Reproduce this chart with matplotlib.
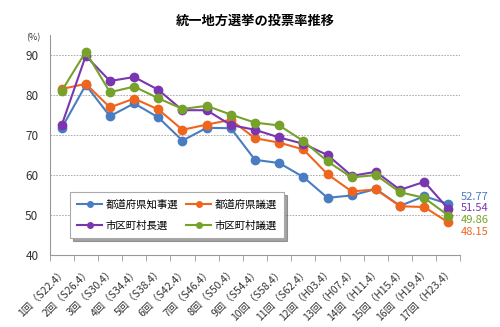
import matplotlib
matplotlib.use("Agg")
import matplotlib.pyplot as plt
import numpy as np

plt.rcParams["font.family"] = ["Noto Sans CJK JP", "DejaVu Sans"]

# data
categories = ["1回（S22.4）", "2回（S26.4）", "3回（S30.4）", "4回（S34.4）", "5回（S38.4）",
              "6回（S42.4）", "7回（S46.4）", "8回（S50.4）", "9回（S54.4）", "10回（S58.4）",
              "11回（S62.4）", "12回（H03.4）", "13回（H07.4）", "14回（H11.4）", "15回（H15.4）",
              "16回（H19.4）", "17回（H23.4）"]
governor = [71.7, 82.5, 74.7, 77.9, 74.4, 68.6, 71.8, 71.7, 63.8, 63.0, 59.5, 54.3, 54.9, 56.5, 52.3, 54.7, 52.77]
pref_assembly = [81.5, 82.8, 76.9, 79.1, 76.4, 71.3, 72.6, 73.8, 69.2, 68.1, 66.4, 60.2, 55.9, 56.4, 52.2, 52.0, 48.15]
mayor = [72.4, 89.8, 83.5, 84.5, 81.3, 76.2, 76.2, 72.5, 71.3, 69.4, 67.8, 65.0, 59.8, 60.8, 56.3, 58.3, 51.54]
muni_assembly = [81.0, 90.8, 80.7, 82.1, 79.2, 76.5, 77.3, 75.1, 73.1, 72.4, 68.5, 63.4, 59.4, 60.0, 55.7, 54.3, 49.86]

series = [
    ("都道府県知事選", governor, "#4a7cc2"),
    ("都道府県議選", pref_assembly, "#f0651e"),
    ("市区町村長選", mayor, "#7a36ae"),
    ("市区町村議選", muni_assembly, "#76a22c"),
]

fig = plt.figure(figsize=(5, 3.27), dpi=100)
ax = fig.add_axes([0.099, 0.22, 0.822, 0.673])

x = np.arange(len(categories))
for name, vals, col in series:
    ax.plot(x, vals, "-o", color=col, lw=1.5, ms=6, label=name, zorder=3)

# value labels at the right end (top to bottom)
label_y = [54.6, 51.7, 48.7, 45.7]
order = [0, 2, 3, 1]
for yy, i in zip(label_y, order):
    name, vals, col = series[i]
    ax.text(16.5, yy, f"{vals[-1]:.2f}", color=col, fontsize=8, va="center", ha="left")

ax.set_xlim(-0.5, 16.5)
ax.set_ylim(40, 95)
ax.set_yticks([40, 50, 60, 70, 80, 90])
ax.tick_params(axis="y", length=0, labelsize=8.5, labelcolor="#333333", pad=8)
for v in [50, 60, 70, 80, 90]:
    ax.axhline(v, color="#a0a0a0", lw=0.6, ls=(0, (2, 1.5)), zorder=1)

ax.set_xticks(x)
ax.set_xticklabels(categories, rotation=45, ha="right", rotation_mode="anchor", fontsize=7.5, color="#333333")
ax.tick_params(axis="x", which="major", length=0, pad=8)
ax.set_xticks(np.arange(-0.5, 17, 1), minor=True)
ax.tick_params(axis="x", which="minor", length=4, color="#999999", direction="out")

for s in ["top", "right"]:
    ax.spines[s].set_visible(False)
ax.spines["left"].set_color("#999999")
ax.spines["bottom"].set_color("#999999")

ax.text(-0.04, 0.986, "(%)", transform=ax.transAxes, fontsize=6.5, color="#333333", ha="center", va="center")

fig.text(0.51, 0.937, "統一地方選挙の投票率推移", ha="center", va="center", fontsize=9.5, fontweight="bold")

# legend filled column-wise: gov, mayor | pref, muni
leg_idx = [0, 2, 1, 3]
leg_handles = [plt.Line2D([], [], color=series[i][2], marker="o", ms=4, lw=1.5) for i in leg_idx]
leg = ax.legend(leg_handles, [series[i][0] for i in leg_idx], ncol=2, loc="upper left",
                bbox_to_anchor=(0.05, 0.285),
                fontsize=7.5, frameon=True, fancybox=False, shadow=True,
                handlelength=2.4, handletextpad=0.3, columnspacing=0.8,
                borderpad=0.7, labelspacing=1.0, borderaxespad=0)
leg.get_frame().set_edgecolor("#aaaaaa")
leg.get_frame().set_linewidth(0.8)

fig.savefig("out.png", dpi=100)
